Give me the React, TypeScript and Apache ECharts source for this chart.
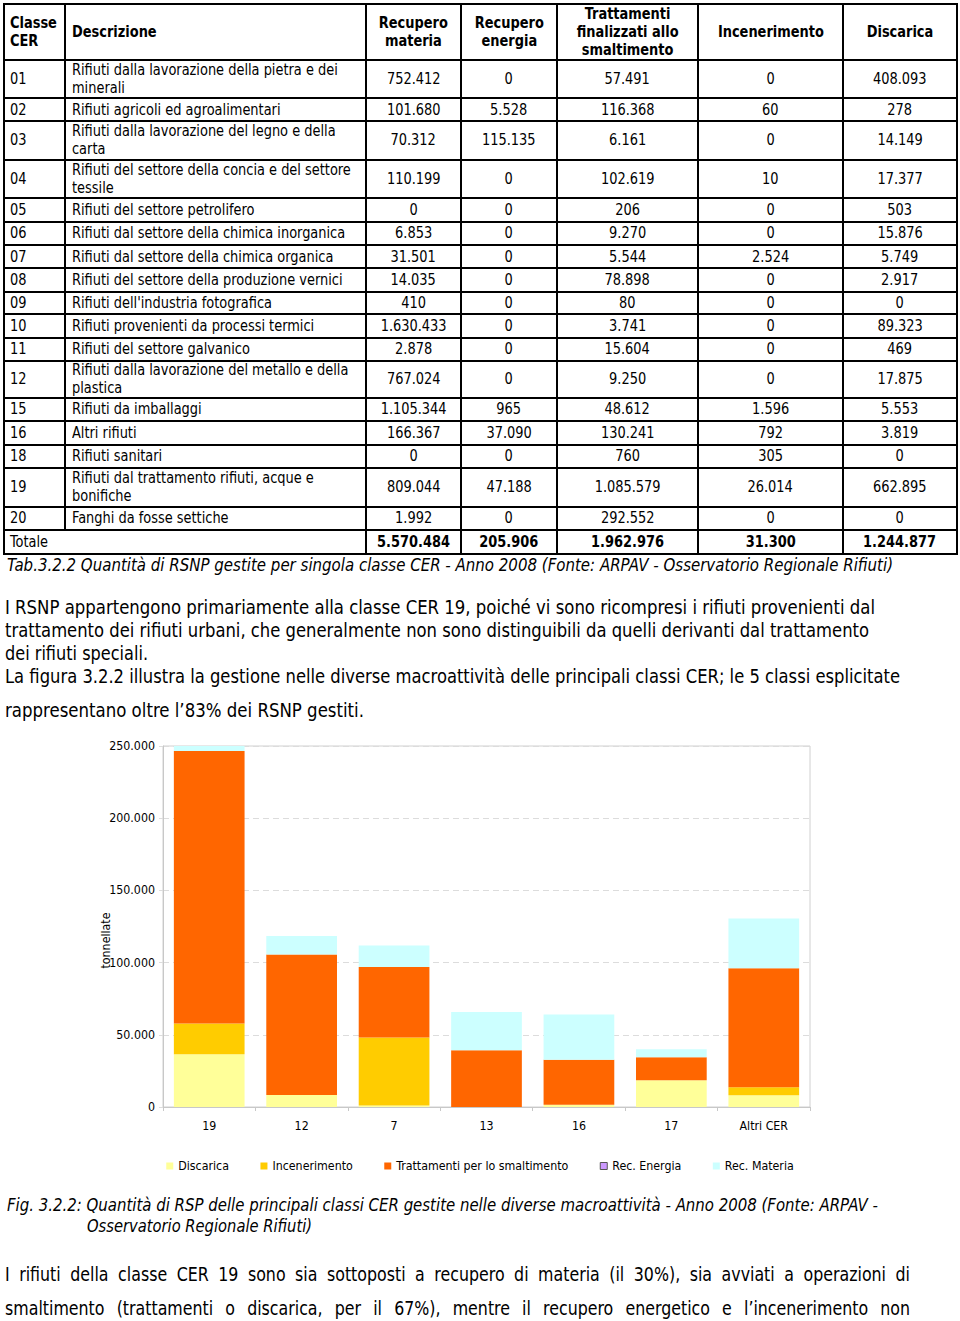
import React, { useEffect, useLayoutEffect, useRef } from "react";
import * as echarts from "echarts";

// ---------------- DATA ----------------
const tableHeaders = [
  "Classe\nCER",
  "Descrizione",
  "Recupero\nmateria",
  "Recupero\nenergia",
  "Trattamenti\nfinalizzati allo\nsmaltimento",
  "Incenerimento",
  "Discarica",
];
const cerClasses = ["01", "02", "03", "04", "05", "06", "07", "08", "09", "10", "11", "12", "15", "16", "18", "19", "20"];
const descriptions = [
  "Rifiuti dalla lavorazione della pietra e dei\nminerali",
  "Rifiuti agricoli ed agroalimentari",
  "Rifiuti dalla lavorazione del legno e della\ncarta",
  "Rifiuti del settore della concia e del settore\ntessile",
  "Rifiuti del settore petrolifero",
  "Rifiuti dal settore della chimica inorganica",
  "Rifiuti dal settore della chimica organica",
  "Rifiuti del settore della produzione vernici",
  "Rifiuti dell'industria fotografica",
  "Rifiuti provenienti da processi termici",
  "Rifiuti del settore galvanico",
  "Rifiuti dalla lavorazione del metallo e della\nplastica",
  "Rifiuti da imballaggi",
  "Altri rifiuti",
  "Rifiuti sanitari",
  "Rifiuti dal trattamento rifiuti, acque e\nbonifiche",
  "Fanghi da fosse settiche",
];
const tRecMateria = [752412, 101680, 70312, 110199, 0, 6853, 31501, 14035, 410, 1630433, 2878, 767024, 1105344, 166367, 0, 809044, 1992];
const tRecEnergia = [0, 5528, 115135, 0, 0, 0, 0, 0, 0, 0, 0, 0, 965, 37090, 0, 47188, 0];
const tTrattamenti = [57491, 116368, 6161, 102619, 206, 9270, 5544, 78898, 80, 3741, 15604, 9250, 48612, 130241, 760, 1085579, 292552];
const tIncenerimento = [0, 60, 0, 10, 0, 0, 2524, 0, 0, 0, 0, 0, 1596, 792, 305, 26014, 0];
const tDiscarica = [408093, 278, 14149, 17377, 503, 15876, 5749, 2917, 0, 89323, 469, 17875, 5553, 3819, 0, 662895, 0];
const totalLabel = "Totale";
const tTotals = [5570484, 205906, 1962976, 31300, 1244877];

// chart data (tonnellate)
const chartCategories = ["19", "12", "7", "13", "16", "17", "Altri CER"];
const chDiscarica = [36500, 8300, 1000, 0, 1500, 18500, 8100];
const chIncenerimento = [21300, 0, 47100, 0, 0, 0, 5500];
const chTrattamenti = [188700, 97300, 48900, 39300, 31300, 15900, 82500];
const chRecEnergia = [0, 0, 0, 0, 0, 0, 0];
const chRecMateria = [3500, 12900, 14800, 26500, 31200, 5600, 34400];
const yTicks = { min: 0, max: 250000, interval: 50000 };
const yAxisName = "tonnellate";
const seriesNames = ["Discarica", "Incenerimento", "Trattamenti per lo smaltimento", "Rec. Energia", "Rec. Materia"];

// texts
const tableCaption = "Tab.3.2.2 Quantità di RSNP gestite per singola classe CER - Anno 2008 (Fonte: ARPAV - Osservatorio Regionale Rifiuti)";
const para1 = [
  "I RSNP appartengono primariamente alla classe CER 19, poiché vi sono ricompresi i rifiuti provenienti dal",
  "trattamento dei rifiuti urbani, che generalmente non sono distinguibili da quelli derivanti dal trattamento",
  "dei rifiuti speciali.",
  "La figura 3.2.2 illustra la gestione nelle diverse macroattività delle principali classi CER; le 5 classi esplicitate",
  "rappresentano oltre l’83% dei RSNP gestiti.",
];
const figCaption = [
  "Fig. 3.2.2: Quantità di RSP delle principali classi CER gestite nelle diverse macroattività - Anno 2008 (Fonte: ARPAV -",
  "Osservatorio Regionale Rifiuti)",
];
const para2 = [
  "I rifiuti della classe CER 19 sono sia sottoposti a recupero di materia (il 30%), sia avviati a operazioni di",
  "smaltimento (trattamenti o discarica, per il 67%), mentre il recupero energetico e l’incenerimento non",
];

// ---------------- LAYOUT ----------------
const FONT = '"DejaVu Sans Condensed", "DejaVu Sans", sans-serif';
const COLX = [4, 65, 366, 461, 557, 698, 843, 957];
const ROWH = [56, 38, 23, 38.5, 38, 24, 23.5, 23, 23.5, 22.5, 23.5, 23, 37, 23.5, 23.5, 23, 39, 23.5, 23.5];
const TABLE_TOP = 4;
const K = 0.9;

const fmt = (n: number) => String(n).replace(/\B(?=(\d{3})+(?!\d))/g, ".");

function Cell(props: { x0: number; x1: number; y0: number; y1: number; text: string; left?: boolean; pad?: number; bold?: boolean }) {
  const { x0, x1, y0, y1, text, left, pad = 0, bold } = props;
  return (
    <div
      style={{
        position: "absolute",
        left: x0,
        top: y0,
        width: x1 - x0,
        height: y1 - y0,
        display: "flex",
        alignItems: "center",
        justifyContent: left ? "flex-start" : "center",
        paddingLeft: left ? pad : 0,
        boxSizing: "border-box",
      }}
    >
      <span
        style={{
          display: "inline-block",
          flexShrink: 0,
          whiteSpace: "pre",
          lineHeight: "18px",
          fontSize: 16,
          fontFamily: FONT,
          fontWeight: bold ? "bold" : "normal",
          color: "#000",
          textAlign: left ? "left" : "center",
          transform: `scaleX(${K})`,
          transformOrigin: left ? "left center" : "center center",
        }}
      >
        {text}
      </span>
    </div>
  );
}

function FitLine(props: { text: string; x: number; yc: number; w: number; fs: number; italic?: boolean }) {
  const { text, x, yc, w, fs, italic } = props;
  const ref = useRef<HTMLSpanElement>(null);
  useLayoutEffect(() => {
    const el = ref.current;
    if (!el) return;
    el.style.transform = "none";
    const nat = el.getBoundingClientRect().width;
    if (nat > 0) el.style.transform = `scaleX(${w / nat})`;
  }, [text, w, fs]);
  const lh = Math.round(fs * 1.25);
  return (
    <span
      ref={ref}
      style={{
        position: "absolute",
        left: x,
        top: yc - lh / 2,
        lineHeight: `${lh}px`,
        fontSize: fs,
        fontFamily: FONT,
        fontStyle: italic ? "italic" : "normal",
        whiteSpace: "pre",
        color: "#000",
        transformOrigin: "left center",
      }}
    >
      {text}
    </span>
  );
}

function JustLine(props: { text: string; x: number; yc: number; w: number; fs: number; k: number }) {
  const { text, x, yc, w, fs, k } = props;
  const ref = useRef<HTMLSpanElement>(null);
  useLayoutEffect(() => {
    const el = ref.current;
    if (!el) return;
    el.style.wordSpacing = "0px";
    el.style.transform = "none";
    const nat = el.getBoundingClientRect().width;
    const n = (text.match(/ /g) || []).length;
    if (n > 0) el.style.wordSpacing = `${(w / k - nat) / n}px`;
    el.style.transform = `scaleX(${k})`;
  }, [text, w, fs, k]);
  const lh = Math.round(fs * 1.25);
  return (
    <span
      ref={ref}
      style={{
        position: "absolute",
        left: x,
        top: yc - lh / 2,
        lineHeight: `${lh}px`,
        fontSize: fs,
        fontFamily: FONT,
        whiteSpace: "pre",
        color: "#000",
        transformOrigin: "left center",
      }}
    >
      {text}
    </span>
  );
}

function Table() {
  const rowTops: number[] = [TABLE_TOP];
  ROWH.forEach((h) => rowTops.push(rowTops[rowTops.length - 1] + h));
  const bottom = rowTops[rowTops.length - 1];
  const totalTop = rowTops[rowTops.length - 2];
  const els: React.ReactNode[] = [];
  tableHeaders.forEach((h, c) => {
    els.push(
      <Cell key={`h${c}`} x0={COLX[c]} x1={COLX[c + 1]} y0={rowTops[0]} y1={rowTops[1]} text={h} bold left={c < 2} pad={c === 0 ? 6 : 7} />
    );
  });
  cerClasses.forEach((cls, r) => {
    const y0 = rowTops[r + 1];
    const y1 = rowTops[r + 2];
    const vals = [tRecMateria[r], tRecEnergia[r], tTrattamenti[r], tIncenerimento[r], tDiscarica[r]];
    els.push(<Cell key={`c${r}`} x0={COLX[0]} x1={COLX[1]} y0={y0} y1={y1} text={cls} left pad={6} />);
    els.push(<Cell key={`d${r}`} x0={COLX[1]} x1={COLX[2]} y0={y0} y1={y1} text={descriptions[r]} left pad={7} />);
    vals.forEach((v, i) => {
      els.push(<Cell key={`v${r}_${i}`} x0={COLX[i + 2]} x1={COLX[i + 3]} y0={y0} y1={y1} text={fmt(v)} />);
    });
  });
  els.push(<Cell key="tl" x0={COLX[0]} x1={COLX[2]} y0={totalTop} y1={bottom} text={totalLabel} left pad={6} />);
  tTotals.forEach((v, i) => {
    els.push(<Cell key={`t${i}`} x0={COLX[i + 2]} x1={COLX[i + 3]} y0={totalTop} y1={bottom} text={fmt(v)} bold />);
  });
  rowTops.forEach((y, i) => {
    els.push(
      <div key={`hl${i}`} style={{ position: "absolute", left: COLX[0] - 1, top: y - 1, width: COLX[7] - COLX[0] + 2, height: 2, background: "#000" }} />
    );
  });
  COLX.forEach((x, i) => {
    const yEnd = i === 1 ? totalTop : bottom;
    els.push(
      <div key={`vl${i}`} style={{ position: "absolute", left: x - 1, top: TABLE_TOP - 1, width: 2, height: yEnd - TABLE_TOP + 2, background: "#000" }} />
    );
  });
  return <>{els}</>;
}

function Chart() {
  const ref = useRef<HTMLDivElement>(null);
  useEffect(() => {
    if (!ref.current) return;
    const chart = echarts.init(ref.current, null, { renderer: "svg" });
    const colors = ["#FFFF99", "#FFCC00", "#FF6600", "#CC99FF", "#CCFFFF"];
    const datas = [chDiscarica, chIncenerimento, chTrattamenti, chRecEnergia, chRecMateria];
    chart.setOption({
      animation: false,
      textStyle: { fontFamily: FONT },
      grid: { left: 163, top: 16, width: 647, height: 361, show: true, borderColor: "#d0d0d0", borderWidth: 1 },
      legend: {
        left: "center",
        top: 425,
        itemWidth: 7,
        itemHeight: 7,
        itemGap: 31.5,
        icon: "rect",
        selectedMode: false,
        textStyle: { fontSize: 12.3, color: "#000", fontFamily: FONT },
        data: seriesNames.map((n, i) =>
          i === 3 ? { name: n, itemStyle: { borderColor: "#555", borderWidth: 1 } } : { name: n }
        ),
      },
      xAxis: {
        type: "category",
        data: chartCategories,
        axisLine: { lineStyle: { color: "#c8c8c8" } },
        axisTick: { show: true, length: 4, lineStyle: { color: "#c8c8c8" } },
        axisLabel: { color: "#000", fontSize: 12.3, margin: 13, fontFamily: FONT },
      },
      yAxis: {
        type: "value",
        min: yTicks.min,
        max: yTicks.max,
        interval: yTicks.interval,
        name: yAxisName,
        nameLocation: "middle",
        nameGap: 51,
        nameRotate: 90,
        nameMoveOverlap: false,
        nameTextStyle: { fontSize: 12.3, color: "#000", fontFamily: FONT, padding: [0, 28, 0, 0] },
        axisLine: { show: true, lineStyle: { color: "#c8c8c8" } },
        axisTick: { show: true, length: 4, lineStyle: { color: "#dddddd" } },
        axisLabel: { color: "#000", fontSize: 12.3, margin: 8, fontFamily: FONT, formatter: (v: number) => fmt(v) },
        splitLine: { show: true, lineStyle: { color: "#dcdcdc", type: [6, 4] } },
      },
      series: seriesNames.map((n, i) => ({
        type: "bar",
        name: n,
        stack: "tot",
        data: datas[i],
        barCategoryGap: "23.5%",
        itemStyle: { color: colors[i] },
        emphasis: { disabled: true },
      })),
    });
    return () => chart.dispose();
  }, []);
  return <div ref={ref} style={{ position: "absolute", left: 0, top: 730, width: 960, height: 470 }} />;
}

export default function App() {
  return (
    <div style={{ position: "absolute", left: 0, top: 0, width: 960, height: 1321, background: "#fff", overflow: "hidden" }}>
      <Table />
      <FitLine text={tableCaption} x={7} yc={565} w={886} fs={17} italic />
      <FitLine text={para1[0]} x={5} yc={607} w={870} fs={20} />
      <FitLine text={para1[1]} x={5} yc={630} w={864} fs={20} />
      <FitLine text={para1[2]} x={5} yc={653} w={143} fs={20} />
      <FitLine text={para1[3]} x={5} yc={676} w={895} fs={20} />
      <FitLine text={para1[4]} x={5} yc={710} w={359} fs={20} />
      <Chart />
      <FitLine text={figCaption[0]} x={7} yc={1205} w={871} fs={17} italic />
      <FitLine text={figCaption[1]} x={87} yc={1226} w={225} fs={17} italic />
      <JustLine text={para2[0]} x={5} yc={1274} w={905} fs={20} k={0.88} />
      <JustLine text={para2[1]} x={5} yc={1308} w={905} fs={20} k={0.88} />
    </div>
  );
}
